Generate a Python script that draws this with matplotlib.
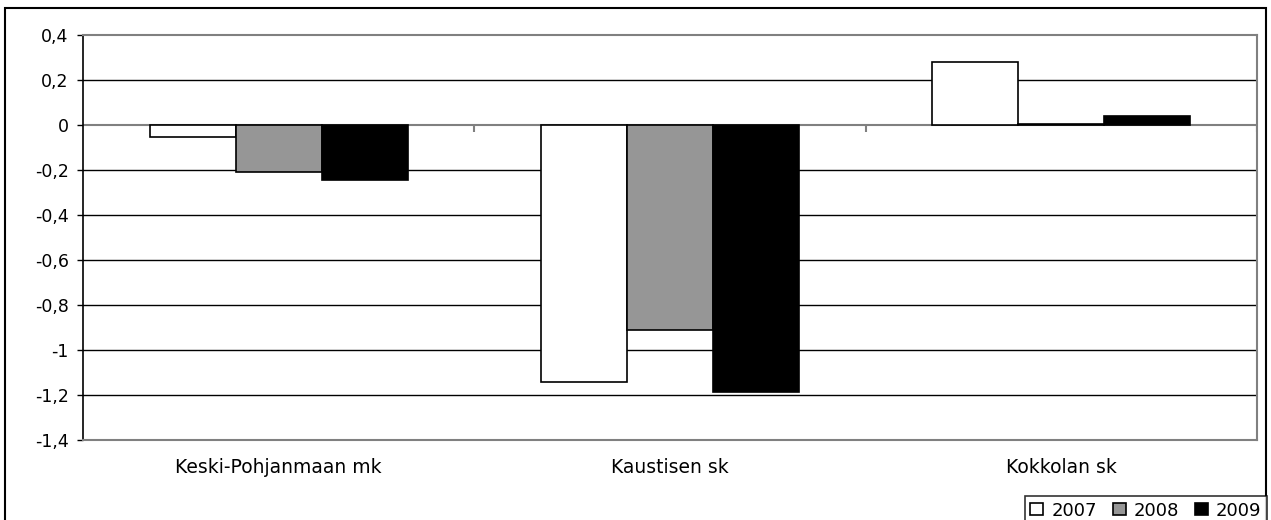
import matplotlib.pyplot as plt
import numpy as np
from matplotlib.patches import Rectangle

plt.rcParams['font.family'] = ['DejaVu Sans']

categories = ['Keski-Pohjanmaan mk', 'Kaustisen sk', 'Kokkolan sk']
years = ['2007', '2008', '2009']
v2007 = [-0.053, -1.142, 0.28]
v2008 = [-0.21, -0.911, 0.004]
v2009 = [-0.244, -1.187, 0.041]
colors = ['white', '#969696', 'black']
yticks = [0.4, 0.2, 0, -0.2, -0.4, -0.6, -0.8, -1, -1.2, -1.4]

fig = plt.figure(figsize=(12.71, 5.2), dpi=100)
ax = fig.add_axes([83 / 1271, 1 - 440 / 520, 1174 / 1271, 405 / 520])

x = np.arange(len(categories))
w = 0.22
for i, (vals, c, lab) in enumerate(zip([v2007, v2008, v2009], colors, years)):
    ax.bar(x + (i - 1) * w, vals, w, color=c, edgecolor='black', linewidth=1.2,
           label=lab, zorder=3)

ax.set_xlim(-0.5, 2.5)
ax.set_ylim(-1.4, 0.4)
ax.set_yticks(yticks)
ax.set_yticklabels([f'{v:g}'.replace('.', ',') for v in yticks], fontsize=12.5)
ax.set_xticks(x)
ax.set_xticklabels(categories, fontsize=13.5)
ax.tick_params(axis='x', length=0, pad=13)
ax.tick_params(axis='y', length=4.3, width=1, color='black', pad=6)

for v in yticks:
    if v not in (0.4, 0, -1.4):
        ax.axhline(v, color='black', linewidth=1, zorder=1)
ax.axhline(0, color='#808080', linewidth=1.5, zorder=2)
ax.vlines([0.5, 1.5, 2.5], -0.03, 0, color='#808080', linewidth=1.5, zorder=2)

for s in ['top', 'right', 'bottom']:
    ax.spines[s].set_color('#808080')
    ax.spines[s].set_linewidth(1.5)
ax.spines['left'].set_color('black')
ax.spines['left'].set_linewidth(1.2)

fig.patches.append(Rectangle((5 / 1271, -5 / 520), 1261 / 1271, 517 / 520,
                             transform=fig.transFigure, fill=False,
                             edgecolor='black', linewidth=1.5))

leg = fig.legend(loc='lower right', bbox_to_anchor=(1267 / 1271, -5 / 520),
                 ncol=3, fontsize=13, frameon=True, fancybox=False,
                 handlelength=0.7, handleheight=0.65, handletextpad=0.45,
                 columnspacing=0.9, borderpad=0.3, borderaxespad=0)
leg.get_frame().set_edgecolor('black')
leg.get_frame().set_linewidth(1.2)

fig.savefig('out.png', dpi=100)
